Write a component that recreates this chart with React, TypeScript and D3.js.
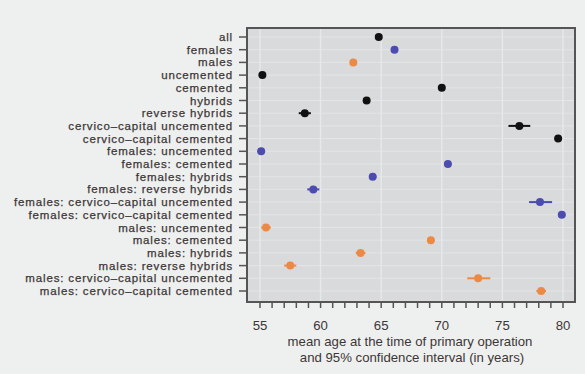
import React from "react";
import * as d3 from "d3";

const categories = [
  "all",
  "females",
  "males",
  "uncemented",
  "cemented",
  "hybrids",
  "reverse hybrids",
  "cervico–capital uncemented",
  "cervico–capital cemented",
  "females: uncemented",
  "females: cemented",
  "females: hybrids",
  "females: reverse hybrids",
  "females: cervico–capital uncemented",
  "females: cervico–capital cemented",
  "males: uncemented",
  "males: cemented",
  "males: hybrids",
  "males: reverse hybrids",
  "males: cervico–capital uncemented",
  "males: cervico–capital cemented",
];

const groups = [
  "all", "female", "male", "all", "all", "all", "all", "all", "all",
  "female", "female", "female", "female", "female", "female",
  "male", "male", "male", "male", "male", "male",
];

const means = [
  64.8, 66.1, 62.7, 55.2, 70.0, 63.8, 58.7, 76.4, 79.6,
  55.1, 70.5, 64.3, 59.4, 78.1, 79.9,
  55.5, 69.1, 63.3, 57.5, 73.0, 78.2,
];
const lower = [
  64.6, 65.9, 62.5, 54.9, 69.8, 63.6, 58.2, 75.5, 79.3,
  54.8, 70.2, 64.0, 58.9, 77.2, 79.6,
  55.1, 68.8, 62.9, 57.0, 72.1, 77.8,
];
const upper = [
  65.0, 66.3, 62.9, 55.5, 70.2, 64.0, 59.2, 77.3, 79.9,
  55.4, 70.8, 64.6, 59.9, 79.1, 80.2,
  55.9, 69.4, 63.7, 58.0, 74.0, 78.6,
];

const xTickLabels = [55, 60, 65, 70, 75, 80];
const xMinorTicks = d3.range(55, 81, 1);

const colorOf: Record<string, string> = {
  all: "#111111",
  female: "#4b4bb0",
  male: "#ec8a45",
};

export default function App() {
  const W = 585, H = 374;
  const L = 247, R = 575, T = 28, B = 302;
  const x = d3.scaleLinear().domain([53.93, 80.99]).range([L, R]);
  const y = d3.scalePoint<string>().domain(categories).range([37, 291]);
  const font = "'Liberation Sans', Arial, sans-serif";
  const textColor = "#3d3636";
  const fs = 13.2;
  const yfs = 11.5;

  return (
    <svg width={W} height={H} style={{ position: "absolute", left: 0, top: 0, background: "#eef0f0" }}>
      <rect x={0} y={0} width={W} height={H} fill="#eef0f0" />
      <rect x={L} y={T} width={R - L} height={B - T} fill="#d8dadb" />
      {categories.map((c) => (
        <line key={"hg" + c} x1={L} x2={R} y1={y(c)!} y2={y(c)!} stroke="#e3e5e6" strokeWidth={1} />
      ))}
      {xTickLabels.map((t) => (
        <line key={"vg" + t} x1={x(t)} x2={x(t)} y1={T} y2={B} stroke="#e6e8e9" strokeWidth={1.5} />
      ))}
      {categories.map((c, i) => (
        <g key={"pt" + c}>
          <line x1={x(lower[i])} x2={x(upper[i])} y1={y(c)!} y2={y(c)!} stroke={colorOf[groups[i]]} strokeWidth={2} />
          <circle cx={x(means[i])} cy={y(c)!} r={4} fill={colorOf[groups[i]]} />
        </g>
      ))}
      <rect x={L} y={T} width={R - L} height={B - T} fill="none" stroke="#555555" strokeWidth={2} />
      {categories.map((c) => (
        <g key={"yl" + c}>
          <line x1={L - 8} x2={L} y1={y(c)!} y2={y(c)!} stroke="#555" strokeWidth={1.5} />
          <text x={233} y={y(c)! + 4} textAnchor="end" fontFamily={font} fontSize={yfs}
            letterSpacing={0.85} fill={textColor} stroke={textColor} strokeWidth={0.25}>
            {c}
          </text>
        </g>
      ))}
      {xMinorTicks.map((t) => (
        <line key={"xt" + t} x1={x(t)} x2={x(t)} y1={B} y2={B + 6} stroke="#555" strokeWidth={1.5} />
      ))}
      {xTickLabels.map((t) => (
        <text key={"xl" + t} x={x(t)} y={330} textAnchor="middle" fontFamily={font} fontSize={fs} fill={textColor}>
          {t}
        </text>
      ))}
      <text x={410} y={346} textAnchor="middle" fontFamily={font} fontSize={fs} fill={textColor}>
        mean age at the time of primary operation
      </text>
      <text x={412} y={362} textAnchor="middle" fontFamily={font} fontSize={fs} fill={textColor}>
        and 95% confidence interval (in years)
      </text>
    </svg>
  );
}
